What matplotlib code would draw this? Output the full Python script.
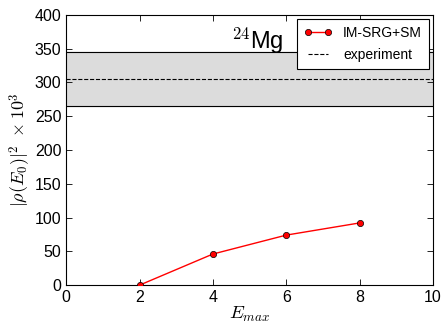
import numpy as np
import matplotlib
matplotlib.use('Agg')
import matplotlib.pyplot as plt

# data
emax = [2, 4, 6, 8]
rho2 = [0, 46, 74, 92]
exp_val = 305
exp_err = 40

plt.rcParams['font.family'] = ['Liberation Sans', 'DejaVu Sans']
plt.rcParams['mathtext.fontset'] = 'cm'
plt.rcParams['xtick.direction'] = 'in'
plt.rcParams['ytick.direction'] = 'in'
plt.rcParams['xtick.top'] = True
plt.rcParams['ytick.right'] = True

fig, ax = plt.subplots(figsize=(4.44, 3.27), dpi=100)
fig.subplots_adjust(left=0.149, right=0.975, top=0.955, bottom=0.128)

ax.axhspan(exp_val - exp_err, exp_val + exp_err, color='#dcdcdc', zorder=0)
ax.axhline(exp_val - exp_err, color='k', lw=0.8)
ax.axhline(exp_val + exp_err, color='k', lw=0.8)
ax.plot(emax, rho2, 'o-', color='red', mec='k', mew=0.5, ms=4.5, lw=1,
        label='IM-SRG+SM', zorder=3)
ax.axhline(exp_val, color='k', ls='--', lw=0.8, label='experiment')

ax.set_xlim(0, 10)
ax.set_ylim(0, 400)
ax.set_xticks([0, 2, 4, 6, 8, 10])
ax.set_yticks(np.arange(0, 401, 50))
ax.tick_params(labelsize=11.5, length=4, width=0.6)
for s in ax.spines.values():
    s.set_linewidth(0.8)

ax.set_xlabel(r'$E_{max}$', fontsize=13.5, labelpad=0)
ax.set_ylabel(r'$|\rho(E_0)|^2\ \times 10^3$', fontsize=13, labelpad=1)

ax.text(0.45, 0.96, r'$^{24}$Mg', transform=ax.transAxes,
        fontsize=17, ha='left', va='top')

leg = ax.legend(loc='upper right', fontsize=10, numpoints=2, fancybox=False,
                framealpha=1, edgecolor='k', borderaxespad=0.3,
                handlelength=2.0, borderpad=0.5, labelspacing=0.6)
leg.get_frame().set_linewidth(0.8)

fig.savefig('out.png', dpi=100)
